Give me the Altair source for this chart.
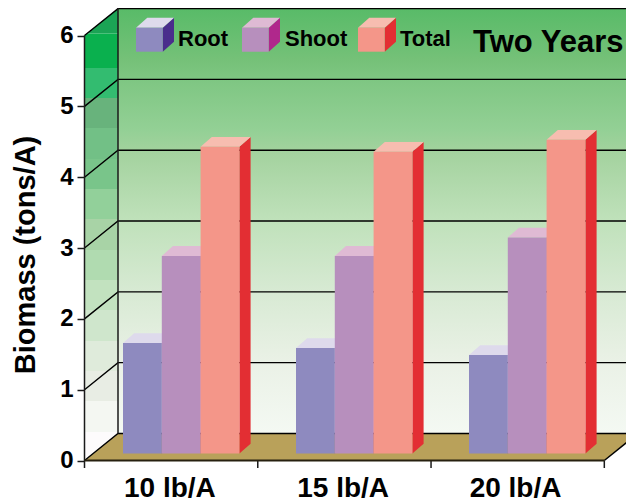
import altair as alt
import numpy as np
import pandas as pd

# ---- values ----
groups = ["10 lb/A", "15 lb/A", "20 lb/A"]
series = ["Root", "Shoot", "Total"]
root = [1.56, 1.49, 1.39]
shoot = [2.79, 2.79, 3.05]
total = [4.33, 4.26, 4.43]
y_ticks = [0, 1, 2, 3, 4, 5, 6]
front_colors = ["#8E8ABF", "#B78FBD", "#F49689"]
side_colors = ["#4A2D8C", "#B0288C", "#E32E33"]
top_colors = ["#DEDAEC", "#DFBAD4", "#F7BDB0"]
band_colors = ["#1BA455", "#0AB04E", "#33BC70", "#68B37C", "#72C086", "#79C58A", "#92D09A", "#A8D3A6",
               "#B0DBB0", "#C2E2BF", "#CFE6CC", "#DFEBDB", "#E8EDE4", "#F4F7F2", "#FDFBFC"]
band_edges = [7, 33.5, 68, 98, 128, 159, 189, 219, 250, 280, 310, 341, 371, 401, 432, 461]
FONT = "Liberation Sans"

# ---- page pixel <-> scale units ----
UX, UY = 173.27, 70.83
RIGHT, BOTTOM = 626, 502
def PX(p): return (p - 84.5) / UX
def PY(p): return (460.5 - p) / UY
DX, DY = 33.5 / UX, 27.0 / UY           # depth of the box
BX, BY = 11.2 / UX, 9.8 / UY            # depth of a bar
BASE = 7.0 / UY                         # bar base above the floor front
BAR0, BARW, GAP = 38.5 / UX, 38.8 / UX, 173.0 / UX
XMAX = PX(RIGHT)

sc_x = alt.Scale(domain=[PX(8), PX(RIGHT)], nice=False, zero=False)
sc_y = alt.Scale(domain=[PY(BOTTOM), PY(8)], nice=False, zero=False)

X = lambda f="x", **k: alt.X(f + ":Q", scale=sc_x, **k)
Y = lambda f="y", **k: alt.Y(f + ":Q", scale=sc_y, **k)
COL = alt.Color("c:N", scale=None, legend=None)

# ---- 3D faces ----
V, H, R = [], [], []   # vertical areas, horizontal areas, rectangles
def cube(i, x0, x1, yb, yt, dx, dy, c):
    f, s, t = c
    V.append(dict(id=f"s{i}", x=x1, y=yb, y2=yt, c=s))
    V.append(dict(id=f"s{i}", x=x1 + dx, y=yb + dy, y2=yt + dy, c=s))
    H.append(dict(id=f"t{i}", y=yt, x=x0, x2=x1, c=t))
    H.append(dict(id=f"t{i}", y=yt + dy, x=x0 + dx, x2=x1 + dx, c=t))
    R.append(dict(x=x0, x2=x1, y=yb, y2=yt, c=f))

n = 0
for g in range(len(groups)):
    for s, vals in enumerate([root, shoot, total]):
        x0 = BAR0 + g * GAP + s * BARW
        cube(n, x0, x0 + BARW, BASE, BASE + vals[g], BX, BY, (front_colors[s], side_colors[s], top_colors[s]))
        n += 1

# legend swatches
legend_x = [136, 242, 358]
legend_text_x = [178, 285, 400]
for s in range(3):
    cube(n, PX(legend_x[s]), PX(legend_x[s] + 26.7), PY(51.7), PY(27.7), 11.3 / UX, 10 / UY,
         (front_colors[s], side_colors[s], top_colors[s]))
    n += 1

faces_s = alt.Chart(pd.DataFrame(V)).mark_area(opacity=1).encode(X(), Y(), y2="y2:Q", detail="id:N", color=COL)
faces_t = alt.Chart(pd.DataFrame(H)).mark_area(orient="horizontal", opacity=1).encode(X(), Y(), x2="x2:Q", detail="id:N", color=COL)
faces_f = alt.Chart(pd.DataFrame(R)).mark_rect().encode(X(), Y(), x2="x2:Q", y2="y2:Q", color=COL)

# ---- back wall ----
stops_y = [8, 60, 79, 130, 152, 220, 295, 363, 435]
stops_c = ["#58BB68", "#75C178", "#7EC682", "#93D095", "#A3D29E", "#BFE1BA", "#D8EAD4", "#EAF1E6", "#F4F9F3"]
grad = alt.Gradient(gradient="linear", x1=0, x2=0, y1=0, y2=1,
                    stops=[alt.GradientStop(offset=(a - 8) / (435 - 8), color=c) for a, c in zip(stops_y, stops_c)])
wall_df = pd.DataFrame([dict(x=DX, x2=XMAX, y=DY, y2=PY(8))])
wall = alt.Chart(wall_df).mark_rect(fill=grad).encode(X(), Y(), x2="x2:Q", y2="y2:Q")

# ---- left wall bands ----
B = []
xs = np.linspace(0, DX, 41)
for i, c in enumerate(band_colors):
    lo, hi = PY(band_edges[i + 1]), PY(band_edges[i])
    for x in xs:
        edge_lo = x / DX * DY
        edge_hi = 6 + x / DX * DY
        a = max(lo, edge_lo)
        b = min(hi, edge_hi)
        if b < a:
            a = b = max(min(a, edge_hi), edge_lo)
        B.append(dict(id=i, x=float(x), y=float(a), y2=float(b), c=c))
bands = alt.Chart(pd.DataFrame(B)).mark_area(opacity=1).encode(X(), Y(), y2="y2:Q", detail="id:N", color=COL)

# ---- floor ----
floor = alt.Chart(pd.DataFrame([dict(y=0.0, x=0.0, x2=3.0), dict(y=DY, x=DX, x2=3 + DX)])).mark_area(
    orient="horizontal", color="#B9A15A", opacity=1).encode(X(), Y(), x2="x2:Q")

# ---- grid ----
G = []
for v in y_ticks:
    top = min(v + DY, PY(8.6))
    G += [dict(id=v, k=0, x=0.0, y=v), dict(id=v, k=1, x=DX, y=top), dict(id=v, k=2, x=XMAX, y=top)]
grid = alt.Chart(pd.DataFrame(G)).mark_line(color="#000000", strokeWidth=1.4).encode(
    X(), Y(), detail="id:N", order="k:Q")
right_edge = alt.Chart(pd.DataFrame([dict(x=3.0, y=0.0), dict(x=3 + DX, y=DY)])).mark_line(
    color="#000000", strokeWidth=1.4).encode(X(), Y())

verts = alt.Chart(pd.DataFrame([
    dict(x=0.0, y=PY(468), y2=6.0),
    dict(x=DX, y=DY, y2=PY(8)),
    dict(x=1.0, y=PY(468), y2=0.0),
    dict(x=2.0, y=PY(468), y2=0.0),
    dict(x=3.0, y=PY(468), y2=0.0),
])).mark_rule(color="#1a1a1a", strokeWidth=1.5).encode(X(), Y(), y2="y2:Q")

front_line = alt.Chart(pd.DataFrame([dict(x=0.0, x2=3.0, y=0.0)])).mark_rule(
    color="#26200F", strokeWidth=2).encode(X(), x2="x2:Q", y=Y())

# ---- texts ----
leg_txt = alt.Chart(pd.DataFrame(dict(x=[PX(p) for p in legend_text_x], y=[PY(46)] * 3, t=series))).mark_text(
    font=FONT, fontWeight="bold", fontSize=22, align="left", baseline="alphabetic", color="#000000").encode(
    X(), Y(), text="t:N")
title = alt.Chart(pd.DataFrame(dict(x=[PX(473)], y=[PY(52)], t=["Two Years"]))).mark_text(
    font=FONT, fontWeight="bold", fontSize=31, align="left", baseline="alphabetic", color="#000000").encode(
    X(), Y(), text="t:N")

# ---- axes (carried by an otherwise invisible layer) ----
centers = [0.49, 1.49, 2.485]
label_expr = "datum.value < 1 ? '%s' : datum.value < 2 ? '%s' : '%s'" % tuple(groups)
axis_layer = alt.Chart(pd.DataFrame(dict(x=[0.0], y=[0.0]))).mark_point(opacity=0).encode(
    x=X(axis=alt.Axis(values=centers, labelExpr=label_expr, title=None, domain=False, ticks=False, grid=False,
                      offset=-(BOTTOM - 460.5), labelFont=FONT, labelFontSize=28, labelFontWeight="bold",
                      labelColor="#000000", labelPadding=14, labelBaseline="top")),
    y=Y(axis=alt.Axis(values=y_ticks, format="d", title="Biomass (tons/A)", domain=False, grid=False,
                      offset=-76.5, tickSize=7.5, tickColor="#1a1a1a", tickWidth=1.5,
                      labelFont=FONT, labelFontSize=24, labelFontWeight="bold", labelColor="#000000",
                      labelPadding=4, labelBound=False, labelFlush=False,
                      titleFont=FONT, titleFontSize=29, titleFontWeight="bold", titleColor="#000000",
                      titleX=-59, titleY=246.5, titleAlign="center", titleBaseline="middle")),
)

chart = alt.layer(
    wall, bands, floor, grid, right_edge, verts, front_line,
    faces_s, faces_t, faces_f, leg_txt, title, axis_layer,
).properties(
    width=RIGHT - 8, height=BOTTOM - 8, padding=0, autosize=alt.AutoSizeParams(type="none"),
    background="#FFFFFF",
).configure_view(stroke=None)

chart.save("out.html", embed_options={"renderer": "svg", "actions": False})
